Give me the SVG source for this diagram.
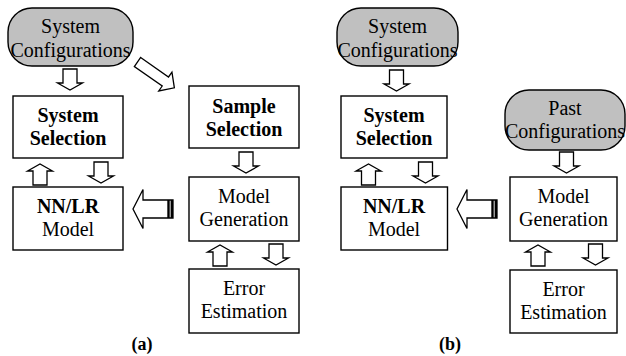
<svg xmlns="http://www.w3.org/2000/svg" xmlns:xlink="http://www.w3.org/1999/xlink" width="626" height="356" viewBox="0 0 626 356">
  <style>
    .box { fill: #ffffff; stroke: #000000; stroke-width: 1.4; }
    .pill { fill: #c0c0c0; stroke: #000000; stroke-width: 1.4; }
    .arrow { fill: #ffffff; stroke: #000000; stroke-width: 1.3; stroke-linejoin: miter; }
    .bar { stroke: #000000; stroke-width: 2.4; }
    text { font-family: 'Liberation Serif', 'Times New Roman', Times, 'DejaVu Serif', serif; font-size: 20px; fill: #000000; text-anchor: middle; }
    .b { font-weight: bold; }
    .cap { font-weight: bold; font-size: 18px; }
  </style>
  <defs>
    <!-- hollow block arrow pointing down, tail at origin, length 21 -->
    <path id="blk" class="arrow" d="M-7,0 H7 V14 H12.5 L0,21 L-12.5,14 H-7 Z"/>
    <!-- wide left-pointing arrow with a barred tail -->
    <g id="wide">
      <path class="arrow" d="M173,200 H143 V189.5 L133,209 L143,228.5 V218 H173 Z"/>
      <line class="bar" x1="168.5" y1="200" x2="168.5" y2="218"/>
      <line class="bar" x1="171.8" y1="200" x2="171.8" y2="218"/>
    </g>
  </defs>

  <!-- panel (a) -->
  <g id="a-sysconf">
    <rect class="pill" x="8" y="8" width="125" height="58" rx="24" ry="24"/>
    <text x="70.5" y="33">System</text>
    <text x="70.5" y="57">Configurations</text>
  </g>
  <g id="a-syssel">
    <rect class="box" x="13" y="96" width="110" height="62"/>
    <text class="b" x="68" y="122">System</text>
    <text class="b" x="68" y="145">Selection</text>
  </g>
  <g id="a-nnlr">
    <rect class="box" x="13" y="187" width="110" height="63"/>
    <text class="b" x="68" y="213">NN/LR</text>
    <text x="68" y="236">Model</text>
  </g>
  <g id="a-sample">
    <rect class="box" x="189" y="86" width="110" height="62"/>
    <text class="b" x="244" y="112.5">Sample</text>
    <text class="b" x="244" y="136">Selection</text>
  </g>
  <g id="a-modelgen">
    <rect class="box" x="189" y="177" width="110" height="64"/>
    <text x="244" y="203">Model</text>
    <text x="244" y="226">Generation</text>
  </g>
  <g id="a-error">
    <rect class="box" x="189" y="269" width="110" height="64"/>
    <text x="244" y="295">Error</text>
    <text x="244" y="318">Estimation</text>
  </g>
  <text class="cap" x="142" y="350">(a)</text>

  <!-- panel (b) -->
  <g id="b-sysconf">
    <rect class="pill" x="337" y="8" width="121" height="58" rx="24" ry="24"/>
    <text x="397.5" y="33">System</text>
    <text x="397.5" y="57">Configurations</text>
  </g>
  <g id="b-syssel">
    <rect class="box" x="341" y="96" width="106" height="62"/>
    <text class="b" x="394" y="122">System</text>
    <text class="b" x="394" y="145">Selection</text>
  </g>
  <g id="b-nnlr">
    <rect class="box" x="341" y="187" width="106.5" height="63"/>
    <text class="b" x="394" y="213">NN/LR</text>
    <text x="394" y="236">Model</text>
  </g>
  <g id="b-pastconf">
    <rect class="pill" x="505" y="90" width="120" height="60" rx="24" ry="24"/>
    <text x="565" y="115">Past</text>
    <text x="565" y="138">Configurations</text>
  </g>
  <g id="b-modelgen">
    <rect class="box" x="510" y="177" width="107" height="64"/>
    <text x="563.5" y="203">Model</text>
    <text x="563.5" y="226">Generation</text>
  </g>
  <g id="b-error">
    <rect class="box" x="510" y="270" width="107" height="63"/>
    <text x="563.5" y="295.5">Error</text>
    <text x="563.5" y="318.5">Estimation</text>
  </g>
  <text class="cap" x="450" y="350">(b)</text>

  <!-- connectors -->
  <g id="connectors">
    <!-- (a) -->
    <use xlink:href="#blk" transform="translate(70,69)"/>
    <use xlink:href="#blk" transform="translate(40,185) scale(1,-1)"/>
    <use xlink:href="#blk" transform="translate(101,162)"/>
    <use xlink:href="#blk" transform="translate(246,152)"/>
    <use xlink:href="#blk" transform="translate(220,266) scale(1,-1)"/>
    <use xlink:href="#blk" transform="translate(276,244)"/>
    <path class="arrow" transform="translate(137.5,62) rotate(35)" d="M0,-5.5 H34 V-11.5 L45,0 L34,11.5 V5.5 H0 Z"/>
    <use xlink:href="#wide"/>
    <!-- (b) -->
    <use xlink:href="#blk" transform="translate(396.5,70)"/>
    <use xlink:href="#blk" transform="translate(368.5,185) scale(1,-1)"/>
    <use xlink:href="#blk" transform="translate(425.5,162)"/>
    <use xlink:href="#blk" transform="translate(566.5,152)"/>
    <use xlink:href="#blk" transform="translate(538,266) scale(1,-1)"/>
    <use xlink:href="#blk" transform="translate(595.5,244)"/>
    <use xlink:href="#wide" transform="translate(324,0)"/>
  </g>
</svg>
